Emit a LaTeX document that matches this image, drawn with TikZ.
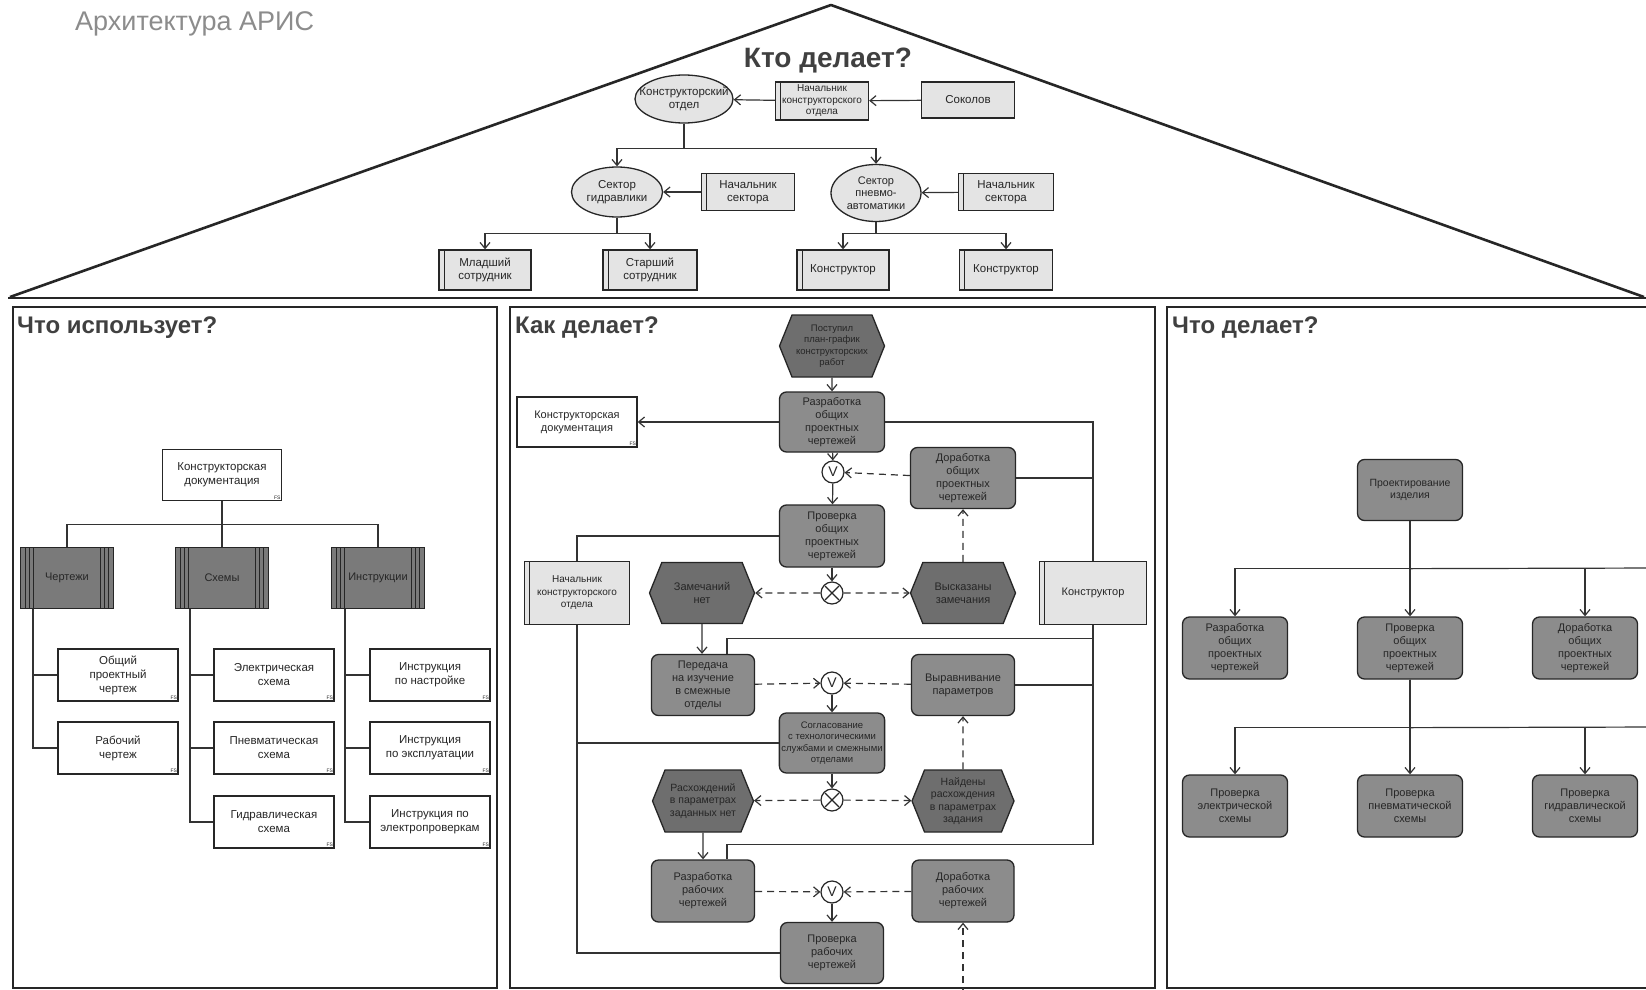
\documentclass[tikz,border=0pt]{standalone}
\usepackage{fontspec}
\setmainfont{Liberation Sans}
\usetikzlibrary{arrows.meta, positioning, calc, shapes.geometric, shapes.symbols}

\definecolor{funcgray}{HTML}{8C8C8C}
\definecolor{evtgray}{HTML}{6E6E6E}
\definecolor{orggray}{HTML}{E4E4E4}
\definecolor{carrgray}{HTML}{7A7A7A}

\begin{document}
\begin{tikzpicture}[x=1pt, y=-1pt,
        every node/.style={font=\fontsize{11}{13}\selectfont, align=center, text=black!85},
        ln/.style={line width=1.2pt, draw=black!80},
        arr/.style={ln, -{Straight Barb[length=6pt, width=10pt]}},
        darr/.style={arr, dash pattern=on 7pt off 5pt},
        func/.style={draw=black!85, line width=1.3pt, fill=funcgray, rounded corners=7pt, minimum width=105pt, minimum height=61pt, inner sep=2pt},
        evt/.style={signal, signal to=east and west, signal pointer angle=136, draw=black!85, line width=1.3pt, fill=evtgray, minimum width=105pt, minimum height=61pt, inner sep=2pt},
        orgbox/.style={draw=black!85, line width=1.3pt, fill=orggray, minimum width=93pt, minimum height=38pt, inner sep=2pt,
            path picture={\draw[line width=1pt] ([xshift=5pt]path picture bounding box.north west) -- ([xshift=5pt]path picture bounding box.south west);}},
        persbox/.style={draw=black!85, line width=1.3pt, fill=orggray, minimum width=93pt, minimum height=36pt, inner sep=2pt},
        orgell/.style={ellipse, draw=black!85, line width=1.3pt, fill=orggray, inner sep=0pt},
        docbox/.style={draw=black!85, line width=1.3pt, fill=white, minimum width=119pt, minimum height=51pt, inner sep=2pt,
            label={[anchor=south east, inner sep=1.5pt, font=\fontsize{5}{5}\selectfont]south east:FS}},
        carrier/.style={draw=black!85, line width=1.3pt, fill=carrgray, minimum width=93pt, minimum height=61pt, font=\fontsize{11}{13}\selectfont,
            path picture={
              \foreach \dx in {5,9,13} {
                \draw[line width=0.9pt] ([xshift=\dx pt]path picture bounding box.north west) -- ([xshift=\dx pt]path picture bounding box.south west);
                \draw[line width=0.9pt] ([xshift=-\dx pt]path picture bounding box.north east) -- ([xshift=-\dx pt]path picture bounding box.south east);
              }}},
        orop/.style={circle, draw=black!85, line width=1.2pt, fill=white, minimum size=22pt, inner sep=0pt, font=\fontsize{14}{14}\selectfont},
        xorop/.style={orop,
            path picture={
              \draw[line width=1.2pt] ([shift={(4pt,-4pt)}]path picture bounding box.north west) -- ([shift={(-4pt,4pt)}]path picture bounding box.south east);
              \draw[line width=1.2pt] ([shift={(-4pt,-4pt)}]path picture bounding box.north east) -- ([shift={(4pt,4pt)}]path picture bounding box.south west);}},
        ptitle/.style={font=\fontsize{24}{26}\selectfont\bfseries, text=black!75, inner sep=0pt}
    ]
    \clip (0,0) rectangle (1646,990);
    \fill[white] (0,0) rectangle (1646,990);

    % roof and frames
    \draw[line width=2.6pt, black!85, line join=round] (10,297) -- (831,5) -- (1644,297);
    \draw[line width=2.6pt, black!85] (8,298) -- (1646,298);
    \draw[line width=1.6pt, black!85] (13,307) rectangle (497,988);
    \draw[line width=1.6pt, black!85] (510,307) rectangle (1155,988);
    \draw[line width=1.6pt, black!85] (1167,307) rectangle (1660,988);

    \node[anchor=west, inner sep=0pt, font=\fontsize{27}{29}\selectfont, text=black!45] (arch) at (75,24) {Архитектура АРИС};

    % who does it: org structure
    \node[ptitle, font=\fontsize{28}{30}\selectfont\bfseries] (kto) at (828,61) {Кто делает?};
    \begin{scope}[every node/.append style={font=\fontsize{11.5}{13.5}\selectfont}]
    \node[orgell, minimum width=98pt, minimum height=48pt, label={center:Конструкторский\\отдел}] (kotd) at (684,99) {};
    \node[orgbox, font=\fontsize{10}{11.5}\selectfont] (nachotd) at (822,101) {Начальник\\конструкторского\\отдела};
    \node[persbox] (sokol) at (968,100) {Соколов};
    \node[orgell, minimum width=91pt, minimum height=50pt, label={center:Сектор\\гидравлики}] (sgidr) at (617,192) {};
    \node[orgbox, minimum height=37pt] (nachs1) at (748,192) {Начальник\\сектора};
    \node[orgell, minimum width=90pt, minimum height=57pt, label={[font=\fontsize{11}{12.5}\selectfont]center:Сектор\\пневмо-\\автоматики}] (spnevm) at (876,193) {};
    \node[orgbox, minimum width=95pt, minimum height=37pt] (nachs2) at (1006,192) {Начальник\\сектора};
    \node[orgbox, minimum width=92pt, minimum height=40pt] (mlad) at (485,270) {Младший\\сотрудник};
    \node[orgbox, minimum width=94pt, minimum height=40pt] (stars) at (650,270) {Старший\\сотрудник};
    \node[orgbox, minimum width=92pt, minimum height=40pt] (kons1) at (843,270) {Конструктор};
    \node[orgbox, minimum width=93pt, minimum height=40pt] (kons2) at (1006,270) {Конструктор};
    \end{scope}

    \draw[arr] (sokol) -- (nachotd);
    \draw[arr] (nachotd) -- (kotd);
    \draw[arr] (nachs1) -- (sgidr);
    \draw[arr] (nachs2) -- (spnevm);
    \draw[arr] (kotd.south) -- ++(0,25) -| (sgidr.north);
    \draw[arr] (kotd.south) -- ++(0,25) -| (spnevm.north);
    \draw[arr] (sgidr.south) -- ++(0,16) -| (mlad.north);
    \draw[arr] (sgidr.south) -- ++(0,16) -| (stars.north);
    \draw[arr] (spnevm.south) -- ++(0,11.5) -| (kons1.north);
    \draw[arr] (spnevm.south) -- ++(0,11.5) -| (kons2.north);

    % what is used: documents
    \node[ptitle, anchor=west] (t1) at (17,328) {Что использует?};
    \node[docbox, font=\fontsize{11.5}{14}\selectfont] (doc1) at (222,475) {Конструкторская\\документация};
    \node[carrier] (chert) at (67,578) {Чертежи};
    \node[carrier] (skhem) at (222,578) {Схемы};
    \node[carrier] (instr) at (378,578) {Инструкции};
    \begin{scope}[every node/.append style={font=\fontsize{11.5}{14}\selectfont}]
    \node[docbox, minimum width=120pt, minimum height=52pt] (obch) at (118,675) {Общий\\проектный\\чертеж};
    \node[docbox, minimum width=120pt, minimum height=52pt] (rabch) at (118,748) {Рабочий\\чертеж};
    \node[docbox, minimum width=120pt, minimum height=52pt] (elsh) at (274,675) {Электрическая\\схема};
    \node[docbox, minimum width=120pt, minimum height=52pt] (pnsh) at (274,748) {Пневматическая\\схема};
    \node[docbox, minimum width=120pt, minimum height=52pt] (gdsh) at (274,822) {Гидравлическая\\схема};
    \node[docbox, minimum width=120pt, minimum height=52pt] (inast) at (430,675) {Инструкция\\по настройке};
    \node[docbox, minimum width=120pt, minimum height=52pt] (iexp) at (430,748) {Инструкция\\по эксплуатации};
    \node[docbox, minimum width=120pt, minimum height=52pt] (ielp) at (430,822) {Инструкция по\\электропроверкам};
    \end{scope}

    \draw[ln] (doc1.south) -- ++(0,23) -| (chert.north);
    \draw[ln] (doc1.south) -- (skhem.north);
    \draw[ln] (doc1.south) -- ++(0,23) -| (instr.north);
    \draw[ln] ([xshift=-34pt]chert.south) |- (obch.west);
    \draw[ln] ([xshift=-34pt]chert.south) |- (rabch.west);
    \draw[ln] ([xshift=-32pt]skhem.south) |- (elsh.west);
    \draw[ln] ([xshift=-32pt]skhem.south) |- (pnsh.west);
    \draw[ln] ([xshift=-32pt]skhem.south) |- (gdsh.west);
    \draw[ln] ([xshift=-33pt]instr.south) |- (inast.west);
    \draw[ln] ([xshift=-33pt]instr.south) |- (iexp.west);
    \draw[ln] ([xshift=-33pt]instr.south) |- (ielp.west);

    % how it is done: process chain
    \node[ptitle, anchor=west] (t2) at (515,328) {Как делает?};
    \node[evt, minimum height=62pt, font=\fontsize{9.5}{11.5}\selectfont] (start) at (832,346) {Поступил\\план-график\\конструкторских\\работ};
    \node[func, minimum height=60pt] (razobsh) at (832,422) {Разработка\\общих\\проектных\\чертежей};
    \node[docbox, minimum width=120pt, minimum height=50pt] (doc2) at (577,422) {Конструкторская\\документация};
    \node[orop] (v1) at (833,472) {V};
    \node[func] (dorobsh) at (963,478) {Доработка\\общих\\проектных\\чертежей};
    \node[func, minimum height=62pt] (provobsh) at (832,536) {Проверка\\общих\\проектных\\чертежей};
    \node[orgbox, minimum width=105pt, minimum height=63pt, font=\fontsize{10}{12.5}\selectfont] (nach2) at (577,593) {Начальник\\конструкторского\\отдела};
    \node[xorop] (x1) at (832,593) {};
    \node[evt] (zamnet) at (702,593) {Замечаний\\нет};
    \node[evt] (vysk) at (963,593) {Высказаны\\замечания};
    \node[orgbox, minimum width=107pt, minimum height=63pt] (konstr) at (1093,593) {Конструктор};
    \node[func, minimum width=103pt] (peredacha) at (703,685) {Передача\\на изучение\\в смежные\\отделы};
    \node[orop] (v2) at (832,683) {V};
    \node[func, minimum width=103pt] (vyrav) at (963,685) {Выравнивание\\параметров};
    \node[func, minimum width=101pt, minimum height=60pt, font=\fontsize{9.5}{11.5}\selectfont] (soglas) at (832,743) {Согласование\\с технологическими\\службами и смежными\\отделами};
    \node[xorop] (x2) at (832,800) {};
    \node[evt, minimum width=101pt, minimum height=62pt, font=\fontsize{10.5}{12.5}\selectfont] (rasnet) at (703,801) {Расхождений\\в параметрах\\заданных нет};
    \node[evt, minimum width=102pt, minimum height=62pt, font=\fontsize{10.5}{12.5}\selectfont] (naid) at (963,801) {Найдены\\расхождения\\в параметрах\\задания};
    \node[func, minimum width=103pt, minimum height=62pt] (razrab) at (703,891) {Разработка\\рабочих\\чертежей};
    \node[orop] (v3) at (832,892) {V};
    \node[func, minimum width=102pt, minimum height=62pt] (dorrab) at (963,891) {Доработка\\рабочих\\чертежей};
    \node[func, minimum width=103pt] (provrab) at (832,953) {Проверка\\рабочих\\чертежей};
    \coordinate (bot) at (963,995);

    \draw[arr] (start) -- (razobsh);
    \draw[arr] (razobsh) -- (doc2);
    \draw[arr] (razobsh) -- (v1);
    \draw[arr] (v1) -- (provobsh);
    \draw[darr] (dorobsh) -- (v1);
    \draw[arr] (provobsh) -- (x1);
    \draw[darr] (x1) -- (zamnet);
    \draw[darr] (x1) -- (vysk);
    \draw[darr] (vysk) -- (dorobsh);
    \draw[arr] (zamnet) -- (zamnet |- peredacha.north);
    \draw[darr] (peredacha) -- (v2);
    \draw[darr] (vyrav) -- (v2);
    \draw[arr] (v2) -- (soglas);
    \draw[arr] (soglas) -- (x2);
    \draw[darr] (x2) -- (rasnet);
    \draw[darr] (x2) -- (naid);
    \draw[darr] (naid) -- (vyrav);
    \draw[arr] (rasnet) -- (razrab);
    \draw[darr] (razrab) -- (v3);
    \draw[darr] (dorrab) -- (v3);
    \draw[arr] (v3) -- (provrab);
    \draw[darr] (bot) -- (dorrab);

    % responsible persons
    \draw[ln] (razobsh.east) -| (konstr.north);
    \draw[ln] (dorobsh.east) -- (dorobsh.east -| konstr.north);
    \draw[ln] (konstr.south) |- ([xshift=24pt, yshift=15pt]peredacha.north) -- ([xshift=24pt]peredacha.north);
    \draw[ln] (vyrav.east) -- (vyrav.east -| konstr.south);
    \draw[ln] (konstr.south) |- ([xshift=24pt, yshift=15pt]razrab.north) -- ([xshift=24pt]razrab.north);
    \draw[ln] (provobsh.west) -| (nach2.north);
    \draw[ln] (soglas.west) -- (soglas.west -| nach2.south);
    \draw[ln] (nach2.south) |- (provrab.west);

    % what is done: function tree
    \node[ptitle, anchor=west] (t3) at (1172,328) {Что делает?};
    \node[func, font=\fontsize{10.5}{12.5}\selectfont] (proj) at (1410,490) {Проектирование\\изделия};
    \node[func, minimum height=62pt] (r2a) at (1235,648) {Разработка\\общих\\проектных\\чертежей};
    \node[func, minimum height=62pt] (r2b) at (1410,648) {Проверка\\общих\\проектных\\чертежей};
    \node[func, minimum height=62pt] (r2c) at (1585,648) {Доработка\\общих\\проектных\\чертежей};
    \node[func, minimum height=62pt] (r3a) at (1235,806) {Проверка\\электрической\\схемы};
    \node[func, minimum height=62pt] (r3b) at (1410,806) {Проверка\\пневматической\\схемы};
    \node[func, minimum height=62pt] (r3c) at (1585,806) {Проверка\\гидравлической\\схемы};
    \coordinate (edge1) at (1660,568);
    \coordinate (edge2) at (1660,727);

    \draw[arr] (proj.south) -- ++(0,47.5) -| (r2a.north);
    \draw[arr] (proj) -- (r2b);
    \draw[arr] (proj.south) -- ++(0,47.5) -| (r2c.north);
    \draw[ln] (proj.south) -- ++(0,47.5) -- (edge1);
    \draw[arr] (r2b.south) -- ++(0,48) -| (r3a.north);
    \draw[arr] (r2b) -- (r3b);
    \draw[arr] (r2b.south) -- ++(0,48) -| (r3c.north);
    \draw[ln] (r2b.south) -- ++(0,48) -- (edge2);
\end{tikzpicture}
\end{document}
